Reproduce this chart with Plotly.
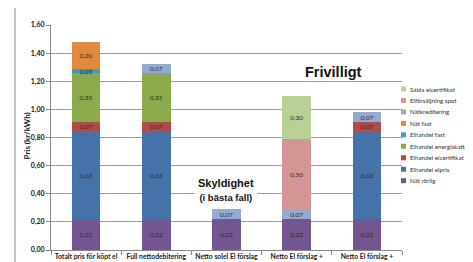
import plotly.graph_objects as go

# ---- data ----
categories = [
    "Totalt pris för köpt el",
    "Full nettodebitering<br>el",
    "Netto solel El förslag",
    "Netto El förslag +<br>frivillig elcertifikat",
    "Netto El förslag +<br>frivillig nätnytta",
]
series_names = [
    "Nät rörlig",
    "Elhandel elpris",
    "Elhandel elcertifikat",
    "Elhandel energiskatt",
    "Elhandel fast",
    "Nät fast",
    "Nätkreditering",
    "Elförsäljning spot",
    "Sålda elcertifikat",
]
nat_rorlig = [0.218, 0.218, 0.218, 0.218, 0.218]
elhandel_elpris = [0.626, 0.626, None, None, 0.626]
elhandel_elcert = [0.066, 0.066, None, None, 0.066]
elhandel_energiskatt = [0.346, 0.346, None, None, None]
elhandel_fast = [0.029, None, None, None, None]
nat_fast = [0.197, None, None, None, None]
natkreditering = [None, 0.07, 0.072, 0.07, 0.07]
elforsaljning_spot = [None, None, None, 0.50, None]
salda_elcert = [None, None, None, 0.304, None]
series_values = [nat_rorlig, elhandel_elpris, elhandel_elcert, elhandel_energiskatt,
                 elhandel_fast, nat_fast, natkreditering, elforsaljning_spot, salda_elcert]
y_ticks = [0, 0.2, 0.4, 0.6, 0.8, 1.0, 1.2, 1.4, 1.6]

colors = ["#735590", "#4572A9", "#B04B47", "#8BAA4B", "#3E9DB8",
          "#E0893F", "#95AAD3", "#D49595", "#B9D097"]

FONT = "Lato"

fig = go.Figure()
for name, vals, col in zip(series_names, series_values, colors):
    fig.add_bar(
        x=categories, y=vals, name=name, marker_color=col, marker_line_width=0,
        texttemplate="%{y:.2f}", textposition="inside", insidetextanchor="middle",
        constraintext="none", textfont=dict(size=6.5, color="#2a2a2a", family=FONT),
        showlegend=False, hoverinfo="skip",
    )

# plot area geometry in px
L, R, T, B = 43, 79, 17, 20
W, H = 473, 262
pw, ph = W - L - R, H - T - B

fig.update_layout(
    width=W, height=H, barmode="stack", bargap=0.59,
    margin=dict(l=L, r=R, t=T, b=B, pad=0, autoexpand=False),
    paper_bgcolor="white", plot_bgcolor="white",
    separators=",.",
    font=dict(family=FONT, color="#222"),
)
fig.update_yaxes(
    range=[0, 1.6], tickvals=y_ticks, tickformat=".2f",
    showgrid=True, gridcolor="#9a9a9a", gridwidth=1,
    showline=True, linecolor="#888", linewidth=1,
    ticks="outside", ticklen=4, tickcolor="#888",
    tickfont=dict(size=7, family=FONT, weight="bold", color="#1a1a1a"),
    zeroline=False, automargin=False,
)
fig.update_xaxes(
    showline=True, linecolor="#888", linewidth=1,
    ticks="outside", ticklen=4, tickcolor="#888", tickson="boundaries",
    tickangle=0, automargin=False,
    tickfont=dict(size=6.8, family=FONT, weight="bold", color="#1a1a1a"),
    showgrid=False,
)

def px2x(px):
    return (px - L) / pw

def px2y(py):
    return (H - B - py) / ph

# y-axis title
fig.add_annotation(
    text="<b>Pris (kr/kWh)</b>", xref="paper", yref="paper",
    x=px2x(18), y=px2y(128.5), xanchor="center", yanchor="middle",
    textangle=-90, showarrow=False,
    font=dict(size=8, family=FONT, color="#1a1a1a"),
)

# text boxes
fig.add_annotation(
    text="<b>Skyldighet</b><br><span style='font-size:9.5px'><b>(i bästa fall)</b></span>",
    xref="paper", yref="paper", x=px2x(218), y=px2y(182),
    xanchor="center", yanchor="middle",
    showarrow=False, bgcolor="white", borderpad=3,
    font=dict(size=11, family="Liberation Sans", color="#111"),
)
fig.add_annotation(
    text="<b>Frivilligt</b>", xref="paper", yref="paper",
    x=px2x(325), y=px2y(64), xanchor="center", yanchor="middle", showarrow=False,
    font=dict(size=14.5, family="Liberation Sans", color="#111"),
)

# manual legend (top to bottom = reverse of stack order)
legend_top, legend_step = 81, 11.46
for i, (name, col) in enumerate(reversed(list(zip(series_names, colors)))):
    cy = legend_top + i * legend_step
    fig.add_shape(type="rect", xref="paper", yref="paper",
                  x0=px2x(393), x1=px2x(398), y0=px2y(cy + 2.5), y1=px2y(cy - 2.5),
                  fillcolor=col, line_width=0)
    fig.add_annotation(text=name, xref="paper", yref="paper",
                       x=px2x(400), y=px2y(cy), xanchor="left", yanchor="middle",
                       showarrow=False,
                       font=dict(size=6.2, family=FONT, color="#333"))

# chart frame (left/right borders)
for xp in (7, 466):
    fig.add_shape(type="line", xref="paper", yref="paper",
                  x0=px2x(xp), x1=px2x(xp), y0=px2y(-5), y1=px2y(H + 5),
                  line=dict(color="#9a9a9a", width=1.2))

fig.write_html("out.html")
